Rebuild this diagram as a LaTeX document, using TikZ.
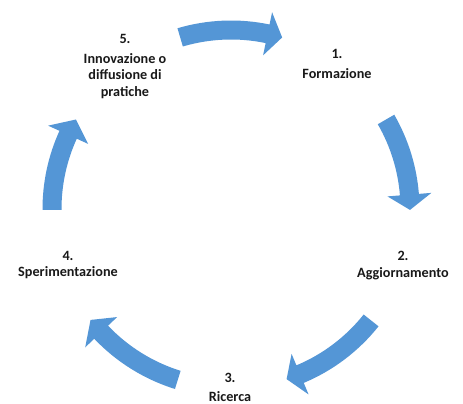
\documentclass[tikz,border=0pt]{standalone}
\usepackage{fontspec}
\setmainfont{Carlito}
\definecolor{cyclearrow}{RGB}{84,150,214}
\definecolor{steptext}{RGB}{25,25,25}
\tikzset{
  steplabel/.style={font=\bfseries\fontsize{14.2}{16.5}\selectfont, text=steptext, align=center, inner sep=0pt},
  arrowbody/.style={fill=cyclearrow, draw=none}
}
% curved block arrow around the centre (c): tail angle, head base angle, tip angle
\newcommand{\cyclearc}[3]{%
  \fill[arrowbody]
    ([shift={(c)}]#1:188.5pt) arc[start angle=#1, end angle=#2, radius=188.5pt]
    -- ([shift={(c)}]#2:201pt)
    -- ([shift={(c)}]#3:179pt)
    -- ([shift={(c)}]#2:157pt)
    -- ([shift={(c)}]#2:169.5pt) arc[start angle=#2, end angle=#1, radius=169.5pt]
    -- cycle;}
\begin{document}
\begin{tikzpicture}[x=1pt,y=1pt]
  \useasboundingbox (0,0) rectangle (463,404);
  \fill[white] (0,0) rectangle (463,404);
  \coordinate (c) at (231,195);

  % the five steps of the cycle
  \node[steplabel] (s1) at (337,340) {1.\\[3pt]Formazione};
  \node[steplabel] (s2) at (403,138.5) {2.\\Aggiornamento};
  \node[steplabel, anchor=south] (s3) at (230,2) {3.\\[3pt]Ricerca};
  \node[steplabel] (s4) at (68,139) {4.\\Sperimentazione};
  \node[steplabel] (s5) at (125,337.5) {5.\\[3pt]Innovazione o\\diffusione di\\pratiche};

  % arrows between consecutive steps
  \cyclearc{106.5}{78.2}{73.4}
  \cyclearc{30}{4.6}{-0.3}
  \cyclearc{-38.5}{-67.3}{-71.9}
  \cyclearc{-107.3}{-136.5}{-141.7}
  \cyclearc{180.3}{155.5}{150}
\end{tikzpicture}
\end{document}
